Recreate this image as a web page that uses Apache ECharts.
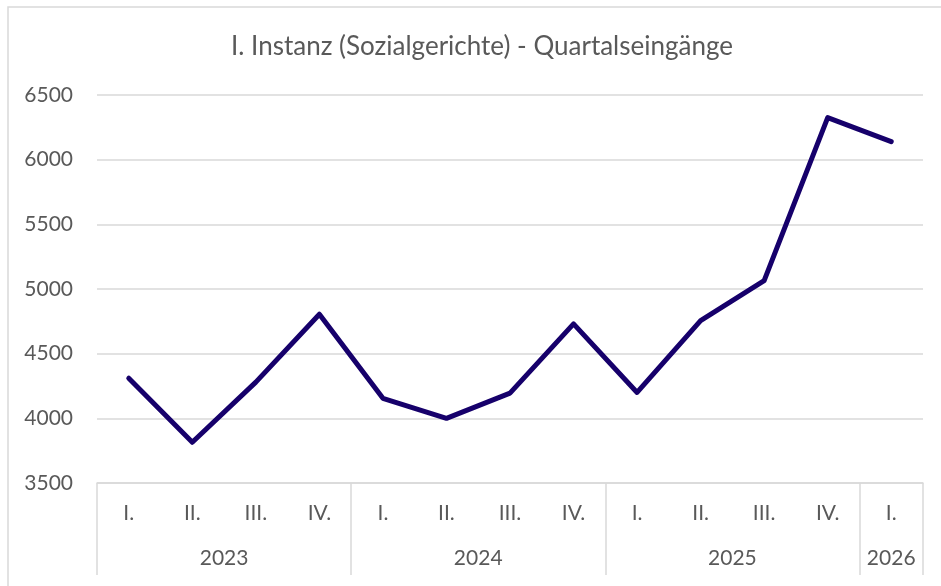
<!DOCTYPE html>
<html>
<head>
<meta charset="utf-8">
<script src="https://cdn.jsdelivr.net/npm/echarts@6/dist/echarts.min.js"></script>
<style>
  html, body { margin: 0; padding: 0; background: #fff; }
  #chart { width: 941px; height: 586px; }
</style>
</head>
<body>
<div id="chart"></div>
<script>
// Daten
var quarters = ['I.', 'II.', 'III.', 'IV.', 'I.', 'II.', 'III.', 'IV.', 'I.', 'II.', 'III.', 'IV.', 'I.'];
var eingaenge = [4310, 3815, 4280, 4805, 4155, 4000, 4195, 4730, 4200, 4755, 5065, 6325, 6140];
var years = ['2023', '2024', '2025', '2026'];
var quartersPerYear = [4, 4, 4, 1];
var yTicks = [3500, 4000, 4500, 5000, 5500, 6000, 6500];

// zweite Achsenebene: halbe Kategorieschritte, damit Jahreslabels mittig und Trennstriche an den Grenzen liegen
var yearSlots = [];
var yearLabelIdx = {};
var yearTickIdx = {};
var start = 0;
for (var i = 0; i <= quarters.length * 2; i++) yearSlots.push('');
years.forEach(function(y, k) {
    var n = quartersPerYear[k];
    yearTickIdx[start * 2] = true;
    yearLabelIdx[start * 2 + n] = true;
    yearSlots[start * 2 + n] = y;
    start += n;
});
yearTickIdx[start * 2] = true;

var textColor = '#595959';
var lineColor = '#d9d9d9';
var font = 'Lato, "Noto Sans", sans-serif';

var chart = echarts.init(document.getElementById('chart'));
chart.setOption({
    animation: false,
    backgroundColor: '#fff',
    graphic: [{
        type: 'rect',
        shape: { x: 8, y: 7, width: 950, height: 620 },
        style: { fill: 'none', stroke: lineColor, lineWidth: 1.5 },
        silent: true
    }],
    title: {
        text: 'I. Instanz (Sozialgerichte) - Quartalseingänge',
        left: 477,
        top: 29,
        textAlign: 'center',
        textStyle: { color: textColor, fontFamily: font, fontSize: 26, fontWeight: 'normal' }
    },
    grid: {
        left: 97,
        right: 18,
        top: 95,
        bottom: 103,
        containLabel: false
    },
    xAxis: [{
        type: 'category',
        data: quarters,
        boundaryGap: true,
        axisLine: { lineStyle: { color: lineColor, width: 1.5 } },
        axisTick: { show: false },
        axisLabel: {
            interval: 0,
            margin: 20,
            color: textColor,
            fontFamily: font,
            fontSize: 21
        }
    }, {
        type: 'category',
        data: yearSlots,
        boundaryGap: false,
        position: 'bottom',
        axisLine: { show: false },
        axisTick: {
            show: true,
            length: 92,
            interval: function(idx) { return !!yearTickIdx[idx]; },
            lineStyle: { color: lineColor, width: 1.5 }
        },
        axisLabel: {
            interval: function(idx) { return !!yearLabelIdx[idx]; },
            margin: 65,
            color: textColor,
            fontFamily: font,
            fontSize: 21
        },
        splitLine: { show: false }
    }],
    yAxis: {
        type: 'value',
        min: yTicks[0],
        max: yTicks[yTicks.length - 1],
        interval: 500,
        axisLine: { show: false },
        axisTick: { show: false },
        axisLabel: {
            margin: 24,
            color: textColor,
            fontFamily: font,
            fontSize: 21,
            formatter: function(v) { return String(v); }
        },
        splitLine: { lineStyle: { color: lineColor, width: 1.5 } }
    },
    series: [{
        name: 'Eingänge',
        type: 'line',
        data: eingaenge,
        symbol: 'none',
        lineStyle: { color: '#16006b', width: 5, cap: 'round', join: 'round' },
        itemStyle: { color: '#16006b' }
    }]
});
</script>
</body>
</html>
